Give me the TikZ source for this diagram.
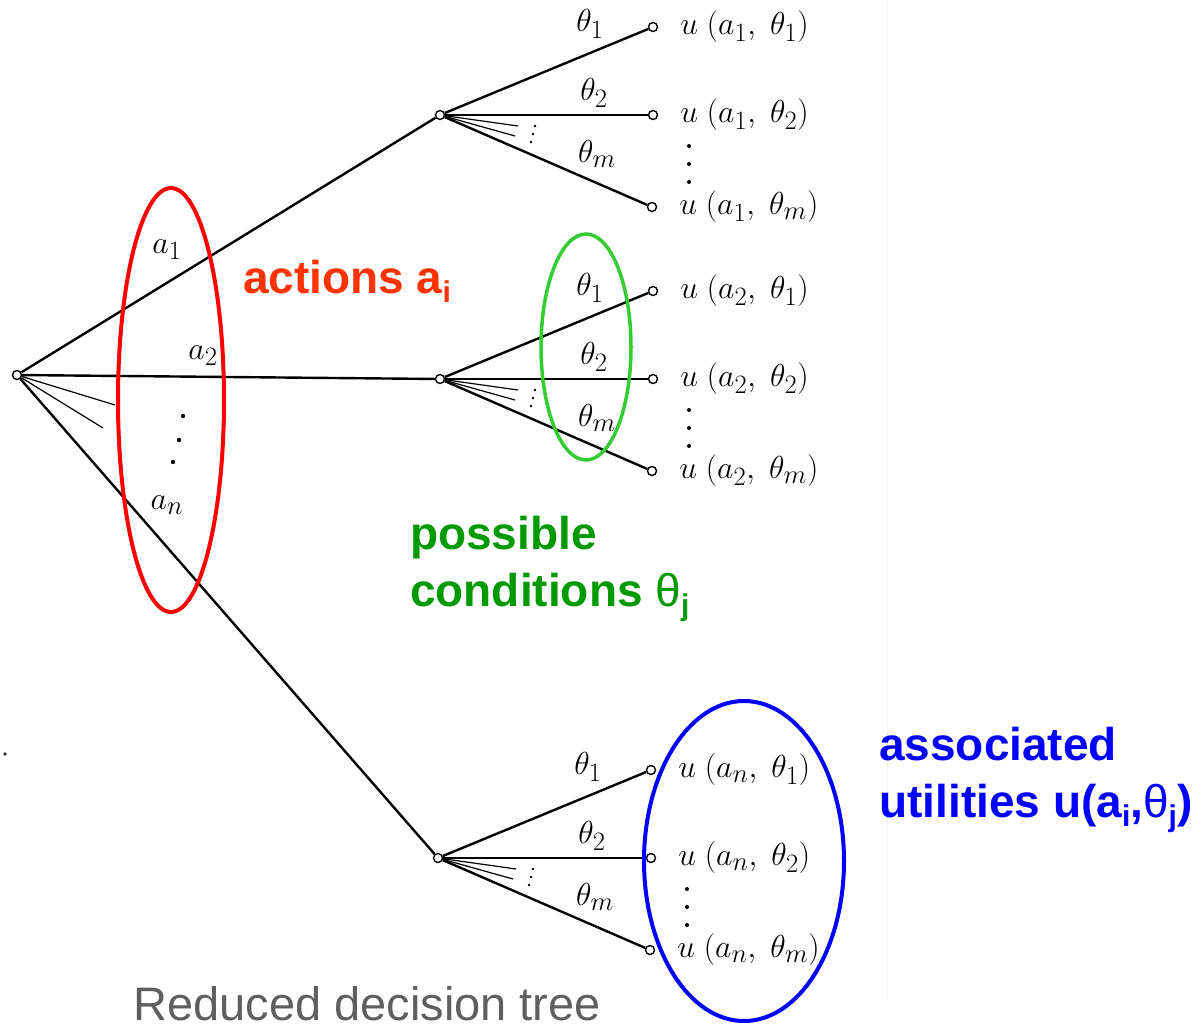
\documentclass[tikz,border=0pt]{standalone}
\usepackage{amsmath}
\usepackage{fontspec}
\newfontfamily\arialfont{Liberation Sans}

\definecolor{actred}{RGB}{255,51,0}
\definecolor{condgreen}{RGB}{0,153,0}
\definecolor{ringgreen}{RGB}{51,204,51}
\definecolor{utilblue}{RGB}{0,0,255}
\definecolor{captiongray}{RGB}{95,95,95}

% subscript for the sans annotations
\newcommand{\asub}[1]{\raisebox{-9pt}{\fontsize{30}{30}\selectfont #1}}
% thin theta as in the annotations
\newcommand{\thin}{{\mdseries θ}}

\tikzset{
  knot/.style={circle, draw, fill=white, line width=1.4pt, inner sep=0pt, minimum size=9pt},
  branch/.style={line width=2.4pt},
  twig/.style={line width=1.2pt},
  lbl/.style={font=\fontsize{24.88}{28}\selectfont, inner sep=0pt, scale=1.28},
  note/.style={font=\arialfont\bfseries\fontsize{46}{57}\selectfont, inner sep=0pt, anchor=base west},
  ring/.style={line width=4pt},
}

\begin{document}
\begin{tikzpicture}[x=1pt, y=-1pt]

    \useasboundingbox (0,0) rectangle (1204,1028);

    % faint edge of the scanned page
    \draw[gray!12, line width=1pt] (887,0) -- (887,1000);
    \fill[black!80] (5,754) circle (1.8pt);

    % ==========================================
    % root of the tree
    % ==========================================
    \node[knot] (root) at (17,375) {};

    % short extra branches from the root
    \coordinate (rtwA) at (115,405);
    \coordinate (rtwB) at (103,428);
    \draw[twig] (root) -- (rtwA);
    \draw[twig] (root) -- (rtwB);

    % ==========================================
    % one sub-tree per action
    % ==========================================
    \foreach \n/\px/\py in {1/440/115, 2/440/379, n/438/858} {
        \node[knot] (act\n) at (\px,\py) {};
        \draw[branch] (root) -- (act\n);

        % outcomes and their utilities
        \foreach \j/\dx/\dy in {1/213/-88, 2/213/0, m/212/92} {
            \node[knot] (leaf\n\j) at (\px+\dx,\py+\dy) {};
            \draw[branch] (act\n) -- (leaf\n\j);
            \node[lbl, anchor=west] (util\n\j) at (\px+\dx+27,\py+\dy) {$u\;(a_\n,\;\theta_\j)$};
        }

        % condition labels
        \foreach \j/\tx/\ty in {1/150/-91, 2/154/-22, m/157/39}
            \node[lbl] (cond\n\j) at (\px+\tx,\py+\ty) {$\theta_\j$};

        % hidden branches and dots
        \coordinate (tw\n a) at (\px+78,\py+11);
        \coordinate (tw\n b) at (\px+75,\py+21);
        \draw[twig] (act\n) -- (tw\n a);
        \draw[twig] (act\n) -- (tw\n b);
        \foreach \k/\kx/\ky in {0/95/11, 1/93/19, 2/91/27}
            \fill (\px+\kx,\py+\ky) circle (1.4pt);

        % dots between the utilities
        \foreach \ly in {31,49,67}
            \fill (\px+249,\py+\ly) circle (2pt);
    }

    % action labels
    \node[lbl] (lblA1) at (167,250) {$a_1$};
    \node[lbl] (lblA2) at (203,356) {$a_2$};
    \node[lbl] (lblAn) at (167,505) {$a_n$};
    \foreach \ax/\ay in {183/416, 179/440, 173/462}
        \fill (\ax,\ay) circle (2.2pt);

    % ==========================================
    % highlight rings
    % ==========================================
    \draw[ring, red] (171,400) ellipse [x radius=53pt, y radius=212pt];
    \draw[ring, ringgreen, line width=3.5pt] (586,347) ellipse [x radius=45pt, y radius=113pt];
    \draw[ring, utilblue] (744,861) ellipse [x radius=100pt, y radius=160pt];

    % ==========================================
    % annotations
    % ==========================================
    \node[note, text=actred] (actions) at (243,293) {actions a\asub{i}};
    \node[note, text=condgreen] (possible) at (410,549) {possible};
    \node[note, text=condgreen] (conditions) at (410,606) {conditions \thin\asub{j}};
    \node[note, text=utilblue] (associated) at (879,760) {associated};
    \node[note, text=utilblue] (utilities) at (879,817) {utilities u(a\asub{i},\thin\asub{j})};

    \node[font=\arialfont\fontsize{47}{50}\selectfont, text=captiongray, inner sep=0pt, anchor=base west]
        (caption) at (133,1020) {Reduced decision tree};

\end{tikzpicture}
\end{document}
